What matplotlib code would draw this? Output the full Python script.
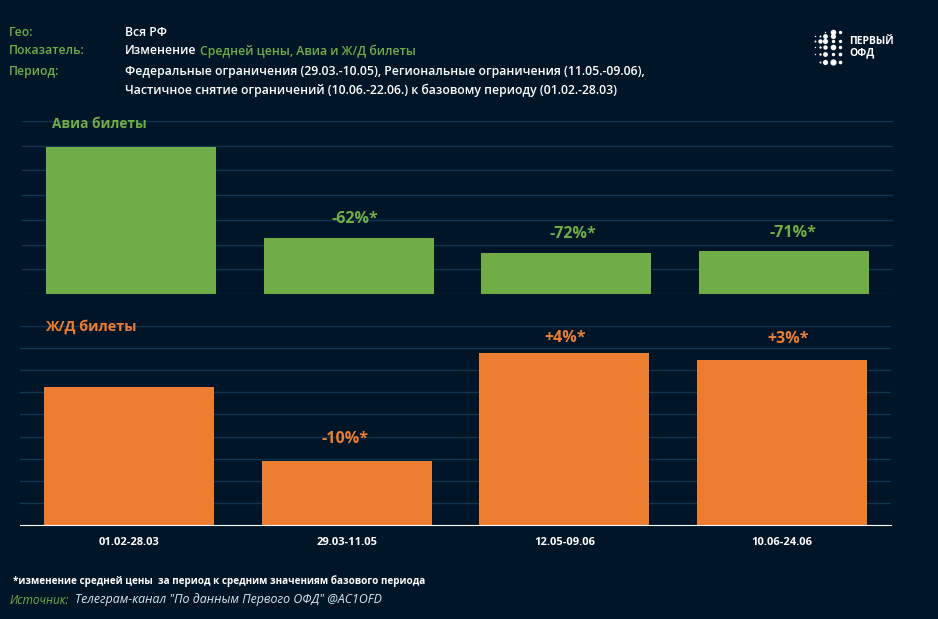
import matplotlib
matplotlib.use('Agg')
import matplotlib.pyplot as plt

plt.rcParams['font.family'] = ['Open Sans', 'DejaVu Sans']

periods = ['01.02-28.03', '29.03-11.05', '12.05-09.06', '10.06-24.06']
avia = [5950, 2260, 1665, 1740]
avia_labels = ['', '-62%*', '-72%*', '-71%*']
train = [625, 290, 778, 747]
train_labels = ['', '-10%*', '+4%*', '+3%*']

W, H = 938, 619
BG = '#011528'
GRID = '#0f3550'
GREEN = '#70ad47'
ORANGE = '#ed7d31'


def box(left, top, right, bottom):
    return [left / W, 1 - bottom / H, (right - left) / W, (bottom - top) / H]


def label(x, y, s, color='white', size=8.8, **kw):
    kw.setdefault('weight', 'semibold')
    return fig.text(x / W, 1 - y / H, s, color=color, fontsize=size, va='center', **kw)


def bars(ax, values, texts, color, ymax, step, shifts):
    ax.set_facecolor('none')
    ax.bar(range(4), values, width=0.781, color=color, zorder=3)
    ax.set_xlim(-0.5, 3.5)
    ax.set_ylim(0, ymax)
    ax.set_yticks(range(0, ymax + 1, step))
    ax.tick_params(left=False, bottom=False, labelleft=False, labelbottom=False)
    ax.grid(axis='y', color=GRID, linewidth=1, zorder=0)
    for s in ax.spines.values():
        s.set_visible(False)
    for i, t in enumerate(texts):
        ax.annotate(t, (i, values[i]), xytext=shifts[i], textcoords='offset pixels',
                    ha='center', va='center', color=color, fontsize=11.5, weight='bold')


fig = plt.figure(figsize=(W / 100, H / 100), dpi=100, facecolor=BG)

ax1 = fig.add_axes(box(22, 121, 893, 294))
bars(ax1, avia, avia_labels, GREEN, 7000, 1000, [(0, 0), (6, 19), (6, 19), (9, 18)])

ax2 = fig.add_axes(box(20, 326, 891, 525))
bars(ax2, train, train_labels, ORANGE, 900, 100, [(0, 0), (-2, 22), (1, 15), (6, 21)])
ax2.spines['bottom'].set_visible(True)
ax2.spines['bottom'].set_color('white')
ax2.spines['bottom'].set_zorder(4)
ax2.set_xticks(range(4))
ax2.set_xticklabels(periods, color='white', fontsize=8, weight='bold')
ax2.tick_params(labelbottom=True, pad=5)

label(9, 32, 'Гео:', GREEN)
label(9, 51, 'Показатель:', GREEN)
label(9, 71, 'Период:', GREEN)
label(125, 32, 'Вся РФ')
t = label(125, 51, 'Изменение')
fig.canvas.draw()
end = t.get_window_extent().x1
label(end + 3, 51, 'Средней цены, Авиа и Ж/Д билеты', GREEN)
label(125, 71, 'Федеральные ограничения (29.03.-10.05), Региональные ограничения (11.05.-09.06),')
label(125, 90, 'Частичное снятие ограничений (10.06.-22.06.) к базовому периоду (01.02.-28.03)')

label(52, 124, 'Авиа билеты', GREEN, 9.8, weight='bold')
label(45, 327, 'Ж/Д билеты', ORANGE, 10.4, weight='bold')

label(13, 581, '*изменение средней цены  за период к средним значениям базового периода', size=7.15, weight='bold')
label(9, 600, 'Источник:', GREEN, 8.5, style='italic', weight='normal')
label(75, 600, 'Телеграм-канал "По данным Первого ОФД" @AC1OFD', '#dbe6f0', 8.9, style='italic', weight='normal')

# логотип
logo = fig.add_axes([0, 0, 1, 1], facecolor='none')
logo.set_xlim(0, W)
logo.set_ylim(H, 0)
logo.axis('off')
dot_cols = [815, 820, 825, 833, 840]
dot_rows = [32, 36, 41, 47, 54, 62]
dot_size = [[0, 0, 1, 16, 6], [1, 2, 12, 14, 0], [2, 10, 14, 6, 6], [1, 3, 10, 16, 6],
            [1, 3, 12, 6, 7], [0, 2, 14, 20, 7]]
for r, y in enumerate(dot_rows):
    for c, x in enumerate(dot_cols):
        if dot_size[r][c]:
            logo.scatter(x, y, s=dot_size[r][c], color='white', linewidths=0)
label(849, 41, 'ПЕРВЫЙ', size=7.5, weight='bold')
label(849, 53, 'ОФД', size=7.5, weight='bold')

fig.savefig('out.png', dpi=100, facecolor=BG)
